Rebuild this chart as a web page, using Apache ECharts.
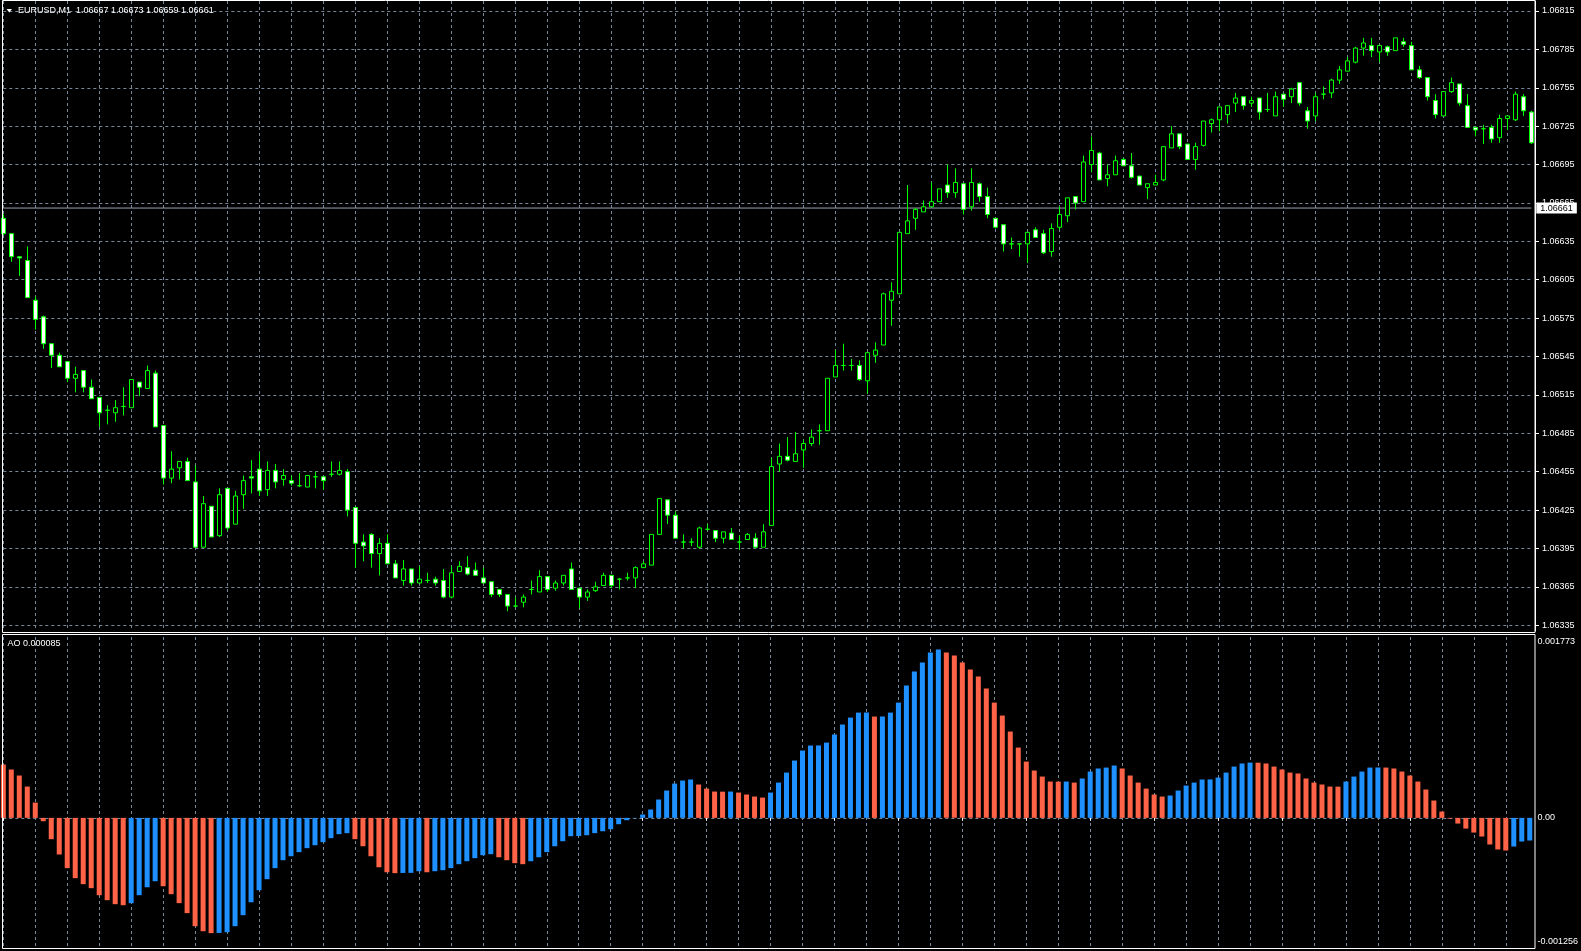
<!DOCTYPE html>
<html>
<head>
<meta charset="utf-8">
<script src="https://cdn.jsdelivr.net/npm/echarts@6/dist/echarts.min.js"></script>
<style>
html,body{margin:0;padding:0;background:#000;}
#chart{width:1581px;height:951px;}
</style>
</head>
<body>
<div id="chart"></div>
<script>
// ---------------- data ----------------
const symbolName = 'EURUSD,M1';
const headerQuote = [1.06667, 1.06673, 1.06659, 1.06661];
const bidPrice = 1.06661;
const aoLabelValue = 0.000085;
const priceTicks = [1.06335, 1.06365, 1.06395, 1.06425, 1.06455, 1.06485, 1.06515, 1.06545, 1.06575,
  1.06605, 1.06635, 1.06665, 1.06695, 1.06725, 1.06755, 1.06785, 1.06815];
const aoTicks = [-0.001256, 0, 0.001773];

const open = [
1.06653,1.06641,1.06623,1.06620,1.06589,1.06576,1.06555,1.06546,1.06541,1.06528,
1.06534,1.06521,1.06513,1.06503,1.06501,1.06506,1.06505,1.06525,1.06520,1.06532,
1.06491,1.06450,1.06458,1.06463,1.06447,1.06396,1.06428,1.06405,1.06442,1.06414,
1.06437,1.06451,1.06457,1.06441,1.06456,1.06449,1.06448,1.06444,1.06443,1.06451,
1.06451,1.06453,1.06453,1.06455,1.06427,1.06400,1.06406,1.06391,1.06399,1.06383,
1.06370,1.06379,1.06368,1.06370,1.06371,1.06370,1.06357,1.06377,1.06380,1.06378,
1.06372,1.06369,1.06363,1.06359,1.06350,1.06353,1.06363,1.06361,1.06373,1.06364,
1.06368,1.06379,1.06364,1.06357,1.06362,1.06366,1.06374,1.06371,1.06372,1.06372,
1.06380,1.06382,1.06406,1.06433,1.06421,1.06400,1.06400,1.06396,1.06410,1.06409,
1.06403,1.06407,1.06400,1.06402,1.06403,1.06396,1.06413,1.06461,1.06467,1.06463,
1.06472,1.06477,1.06487,1.06487,1.06529,1.06538,1.06538,1.06538,1.06526,1.06546,
1.06554,1.06589,1.06594,1.06641,1.06653,1.06658,1.06662,1.06666,1.06679,1.06673,
1.06680,1.06662,1.06680,1.06670,1.06653,1.06648,1.06633,1.06633,1.06633,1.06644,
1.06641,1.06627,1.06646,1.06655,1.06670,1.06666,1.06695,1.06704,1.06684,1.06687,
1.06699,1.06694,1.06686,1.06677,1.06679,1.06683,1.06708,1.06719,1.06711,1.06699,
1.06710,1.06727,1.06730,1.06734,1.06743,1.06748,1.06743,1.06747,1.06738,1.06733,
1.06750,1.06748,1.06759,1.06737,1.06733,1.06750,1.06751,1.06761,1.06768,1.06775,
1.06786,1.06788,1.06783,1.06787,1.06784,1.06791,1.06788,1.06769,1.06763,1.06745,
1.06733,1.06752,1.06758,1.06741,1.06724,1.06723,1.06724,1.06716,1.06731,1.06730,
1.06748,1.06736];

const high = [
1.06656,1.06641,1.06623,1.06631,1.06592,1.06577,1.06555,1.06548,1.06541,1.06537,
1.06534,1.06527,1.06513,1.06507,1.06511,1.06521,1.06527,1.06525,1.06538,1.06534,
1.06491,1.06471,1.06463,1.06466,1.06460,1.06436,1.06428,1.06442,1.06442,1.06440,
1.06452,1.06464,1.06470,1.06463,1.06461,1.06457,1.06452,1.06454,1.06452,1.06455,
1.06451,1.06463,1.06463,1.06457,1.06427,1.06406,1.06407,1.06403,1.06406,1.06386,
1.06386,1.06379,1.06381,1.06376,1.06373,1.06379,1.06381,1.06385,1.06389,1.06384,
1.06380,1.06369,1.06363,1.06359,1.06357,1.06359,1.06370,1.06378,1.06373,1.06370,
1.06374,1.06384,1.06364,1.06363,1.06369,1.06376,1.06374,1.06372,1.06376,1.06381,
1.06385,1.06406,1.06434,1.06433,1.06424,1.06406,1.06403,1.06412,1.06414,1.06409,
1.06408,1.06411,1.06405,1.06407,1.06407,1.06414,1.06466,1.06477,1.06482,1.06486,
1.06480,1.06488,1.06492,1.06528,1.06550,1.06555,1.06543,1.06542,1.06548,1.06556,
1.06595,1.06603,1.06642,1.06679,1.06661,1.06667,1.06681,1.06676,1.06695,1.06692,
1.06680,1.06692,1.06681,1.06677,1.06653,1.06648,1.06638,1.06633,1.06642,1.06646,
1.06644,1.06649,1.06662,1.06669,1.06670,1.06702,1.06717,1.06705,1.06695,1.06702,
1.06700,1.06704,1.06686,1.06680,1.06687,1.06709,1.06725,1.06719,1.06711,1.06712,
1.06729,1.06731,1.06740,1.06741,1.06751,1.06748,1.06748,1.06747,1.06751,1.06752,
1.06750,1.06755,1.06759,1.06740,1.06751,1.06756,1.06762,1.06772,1.06779,1.06787,
1.06794,1.06794,1.06788,1.06788,1.06794,1.06794,1.06791,1.06772,1.06763,1.06750,
1.06752,1.06763,1.06758,1.06750,1.06724,1.06726,1.06726,1.06734,1.06733,1.06752,
1.06750,1.06737];

const low = [
1.06640,1.06619,1.06608,1.06591,1.06566,1.06551,1.06536,1.06537,1.06525,1.06517,
1.06517,1.06512,1.06490,1.06492,1.06494,1.06499,1.06505,1.06514,1.06520,1.06490,
1.06445,1.06446,1.06449,1.06448,1.06396,1.06396,1.06404,1.06404,1.06409,1.06414,
1.06426,1.06438,1.06436,1.06436,1.06442,1.06444,1.06444,1.06443,1.06443,1.06442,
1.06441,1.06451,1.06452,1.06420,1.06380,1.06385,1.06380,1.06374,1.06383,1.06372,
1.06366,1.06366,1.06368,1.06368,1.06366,1.06356,1.06356,1.06377,1.06374,1.06374,
1.06368,1.06357,1.06357,1.06346,1.06349,1.06349,1.06359,1.06361,1.06361,1.06362,
1.06366,1.06363,1.06348,1.06354,1.06361,1.06366,1.06364,1.06363,1.06370,1.06364,
1.06380,1.06382,1.06406,1.06414,1.06403,1.06395,1.06397,1.06395,1.06409,1.06400,
1.06399,1.06402,1.06394,1.06402,1.06395,1.06396,1.06413,1.06455,1.06463,1.06463,
1.06458,1.06475,1.06476,1.06487,1.06529,1.06534,1.06534,1.06526,1.06516,1.06540,
1.06554,1.06569,1.06594,1.06641,1.06644,1.06658,1.06662,1.06666,1.06669,1.06669,
1.06656,1.06659,1.06666,1.06653,1.06645,1.06627,1.06629,1.06623,1.06618,1.06638,
1.06625,1.06623,1.06644,1.06650,1.06660,1.06666,1.06689,1.06683,1.06678,1.06687,
1.06694,1.06684,1.06679,1.06668,1.06679,1.06682,1.06708,1.06707,1.06699,1.06691,
1.06709,1.06720,1.06721,1.06727,1.06736,1.06738,1.06740,1.06730,1.06736,1.06733,
1.06740,1.06743,1.06741,1.06723,1.06729,1.06746,1.06747,1.06758,1.06768,1.06774,
1.06780,1.06779,1.06775,1.06780,1.06784,1.06787,1.06769,1.06762,1.06745,1.06731,
1.06733,1.06751,1.06741,1.06724,1.06717,1.06711,1.06712,1.06712,1.06722,1.06729,
1.06733,1.06711];

const close = [
1.06641,1.06623,1.06622,1.06591,1.06574,1.06555,1.06546,1.06537,1.06528,1.06531,
1.06521,1.06512,1.06501,1.06503,1.06505,1.06506,1.06527,1.06521,1.06534,1.06490,
1.06450,1.06457,1.06463,1.06448,1.06396,1.06430,1.06404,1.06437,1.06411,1.06436,
1.06448,1.06450,1.06440,1.06456,1.06447,1.06452,1.06446,1.06444,1.06452,1.06451,
1.06448,1.06453,1.06456,1.06425,1.06399,1.06397,1.06391,1.06399,1.06383,1.06372,
1.06379,1.06368,1.06371,1.06370,1.06368,1.06357,1.06376,1.06381,1.06375,1.06374,
1.06368,1.06359,1.06359,1.06350,1.06350,1.06357,1.06363,1.06373,1.06363,1.06368,
1.06374,1.06363,1.06357,1.06361,1.06365,1.06374,1.06366,1.06371,1.06372,1.06380,
1.06383,1.06406,1.06434,1.06421,1.06403,1.06400,1.06400,1.06411,1.06410,1.06403,
1.06408,1.06402,1.06400,1.06406,1.06396,1.06408,1.06459,1.06467,1.06464,1.06469,
1.06477,1.06482,1.06487,1.06528,1.06538,1.06538,1.06538,1.06527,1.06548,1.06550,
1.06594,1.06596,1.06642,1.06651,1.06660,1.06662,1.06666,1.06676,1.06673,1.06681,
1.06660,1.06681,1.06670,1.06656,1.06646,1.06633,1.06633,1.06633,1.06642,1.06638,
1.06626,1.06645,1.06656,1.06669,1.06665,1.06697,1.06706,1.06683,1.06687,1.06698,
1.06694,1.06685,1.06679,1.06680,1.06681,1.06709,1.06719,1.06709,1.06699,1.06709,
1.06729,1.06730,1.06740,1.06741,1.06747,1.06741,1.06745,1.06736,1.06738,1.06748,
1.06746,1.06754,1.06743,1.06729,1.06748,1.06750,1.06761,1.06769,1.06776,1.06786,
1.06790,1.06784,1.06788,1.06783,1.06794,1.06789,1.06769,1.06763,1.06748,1.06734,
1.06752,1.06759,1.06743,1.06724,1.06722,1.06723,1.06715,1.06731,1.06733,1.06750,
1.06737,1.06712];

const ao = [
0.000523,0.000474,0.000415,0.000307,0.000150,-0.000033,-0.000209,-0.000359,-0.000493,-0.000591,
-0.000650,-0.000689,-0.000758,-0.000807,-0.000846,-0.000856,-0.000836,-0.000758,-0.000680,-0.000621,
-0.000670,-0.000748,-0.000836,-0.000934,-0.001062,-0.001111,-0.001130,-0.001128,-0.001121,-0.001062,
-0.000954,-0.000827,-0.000709,-0.000601,-0.000493,-0.000415,-0.000376,-0.000336,-0.000297,-0.000268,
-0.000238,-0.000199,-0.000160,-0.000150,-0.000209,-0.000278,-0.000376,-0.000484,-0.000533,-0.000542,
-0.000540,-0.000539,-0.000523,-0.000533,-0.000523,-0.000513,-0.000493,-0.000454,-0.000425,-0.000395,
-0.000366,-0.000356,-0.000386,-0.000415,-0.000444,-0.000454,-0.000425,-0.000386,-0.000336,-0.000278,
-0.000229,-0.000180,-0.000178,-0.000170,-0.000150,-0.000131,-0.000111,-0.000062,-0.000023,-0.000003,
0.000033,0.000082,0.000180,0.000268,0.000336,0.000366,0.000376,0.000327,0.000287,0.000258,
0.000257,0.000258,0.000248,0.000229,0.000209,0.000199,0.000248,0.000346,0.000444,0.000562,
0.000660,0.000709,0.000710,0.000738,0.000817,0.000915,0.000983,0.001032,0.001033,0.000993,
0.000994,0.001032,0.001130,0.001297,0.001434,0.001522,0.001620,0.001650,0.001620,0.001591,
0.001522,0.001454,0.001385,0.001268,0.001130,0.001003,0.000846,0.000689,0.000552,0.000464,
0.000405,0.000356,0.000355,0.000356,0.000346,0.000386,0.000454,0.000484,0.000493,0.000513,
0.000484,0.000415,0.000346,0.000287,0.000229,0.000209,0.000219,0.000268,0.000317,0.000346,
0.000376,0.000377,0.000395,0.000444,0.000503,0.000533,0.000542,0.000541,0.000533,0.000503,
0.000474,0.000444,0.000435,0.000386,0.000346,0.000327,0.000307,0.000306,0.000356,0.000405,
0.000454,0.000493,0.000494,0.000493,0.000484,0.000454,0.000415,0.000356,0.000278,0.000170,
0.000062,-0.000007,-0.000056,-0.000105,-0.000144,-0.000183,-0.000261,-0.000310,-0.000320,-0.000281,
-0.000232,-0.000222];

// ---------------- chart ----------------
const FONT = '"Liberation Sans", Arial, sans-serif';
const gridColor = '#778899';
const upColor = '#1E90FF';
const downColor = '#FF6347';
const barIndex = open.map((_, i) => String(i));
const candleData = open.map((o, i) => [o, close[i], low[i], high[i]]);
const aoData = ao.map((v, i) => ({
  value: v,
  itemStyle: { color: (i > 0 && v > ao[i - 1]) ? upColor : downColor }
}));
const bidLineData = barIndex.map(() => bidPrice);

const chart = echarts.init(document.getElementById('chart'), null, { renderer: 'canvas', width: 1581, height: 951 });

const dashed = { color: gridColor, type: [3, 3], width: 1 };

const option = {
  backgroundColor: '#000000',
  animation: false,
  grid: [
    { left: 3.3, right: 49.7, top: 1, height: 630 },
    { left: 3.3, right: 49.7, top: 637, height: 309 }
  ],
  xAxis: [
    {
      type: 'category', gridIndex: 0, data: barIndex, boundaryGap: false,
      axisLine: { show: false }, axisTick: { show: false }, axisLabel: { show: false },
      splitLine: { show: true, interval: 3, lineStyle: dashed }
    },
    {
      type: 'category', gridIndex: 1, data: barIndex, boundaryGap: false, offset: 2,
      axisLine: { show: false },
      axisTick: { show: true, interval: 7, length: 3, lineStyle: { color: '#ffffff' } },
      axisLabel: { show: false },
      splitLine: { show: true, interval: 3, lineStyle: dashed }
    }
  ],
  yAxis: [
    {
      type: 'value', gridIndex: 0, position: 'right', offset: 3.7,
      min: 1.063305, max: 1.068228,
      axisLine: { show: true, lineStyle: { color: '#ffffff' } },
      axisTick: { show: true, length: 4, customValues: priceTicks, lineStyle: { color: '#ffffff' } },
      axisLabel: {
        customValues: priceTicks, color: '#ffffff', fontSize: 9, fontFamily: FONT, margin: 7,
        formatter: v => v.toFixed(5)
      },
      splitLine: { show: true, lineStyle: dashed }
    },
    {
      type: 'value', gridIndex: 1, position: 'right', offset: 3.7,
      min: aoTicks[0], max: aoTicks[2],
      axisLine: { show: false },
      axisTick: { show: false, customValues: [0] },
      axisLabel: {
        customValues: aoTicks, color: '#ffffff', fontSize: 9, fontFamily: FONT, margin: 4,
        formatter: v => {
          if (v === 0) return '0.00';
          if (v > 0) return '{t|' + v.toFixed(6) + '}';
          return '{b|' + v.toFixed(6) + '}';
        },
        rich: {
          t: { padding: [10, 0, 0, 0], color: '#ffffff', fontSize: 9, fontFamily: FONT },
          b: { padding: [0, 0, 9, 0], color: '#ffffff', fontSize: 9, fontFamily: FONT }
        }
      },
      splitLine: { show: true, lineStyle: dashed }
    }
  ],
  series: [
    {
      // bid price line (drawn under the candles)
      type: 'line', xAxisIndex: 0, yAxisIndex: 0, data: bidLineData,
      showSymbol: false, silent: true, z: 1, clip: false,
      lineStyle: { color: '#9aa5b1', width: 1, type: 'solid' },
      emphasis: { disabled: true },
      endLabel: {
        show: true, distance: 5,
        formatter: () => bidPrice.toFixed(5),
        backgroundColor: '#ffffff', color: '#000000',
        fontSize: 9, fontFamily: FONT, padding: [1, 4, 1, 4]
      }
    },
    {
      type: 'candlestick', xAxisIndex: 0, yAxisIndex: 0, data: candleData,
      barWidth: 4, clip: false, z: 3,
      itemStyle: {
        color: '#000000', color0: '#ffffff',
        borderColor: '#00ff00', borderColor0: '#00ff00', borderColorDoji: '#00ff00',
        borderWidth: 1
      },
      emphasis: { disabled: true }
    },
    {
      type: 'bar', xAxisIndex: 1, yAxisIndex: 1, data: aoData,
      barWidth: 5, clip: false, emphasis: { disabled: true }
    }
  ],
  graphic: [
    { type: 'rect', silent: true, z: 100, shape: { x: 2.5, y: 0.5, width: 1532.5, height: 632 },
      style: { fill: null, stroke: '#ffffff', lineWidth: 1 } },
    { type: 'rect', silent: true, z: 100, shape: { x: 2.5, y: 634.5, width: 1532.5, height: 314 },
      style: { fill: null, stroke: '#ffffff', lineWidth: 1 } },
    { type: 'polygon', silent: true, z: 100, shape: { points: [[6.5, 9], [12, 9], [9.25, 12.5]] },
      style: { fill: '#ffffff' } },
    { type: 'text', silent: true, z: 100, x: 18, y: 10.5,
      style: { text: symbolName + '  ' + headerQuote.map(v => v.toFixed(5)).join(' '),
        fill: '#ffffff', font: '9px ' + FONT, verticalAlign: 'middle' } },
    { type: 'text', silent: true, z: 100, x: 7.5, y: 643.5,
      style: { text: 'AO ' + aoLabelValue.toFixed(6), fill: '#ffffff', font: '9px ' + FONT, verticalAlign: 'middle' } }
  ]
};

chart.setOption(option);
</script>
</body>
</html>
